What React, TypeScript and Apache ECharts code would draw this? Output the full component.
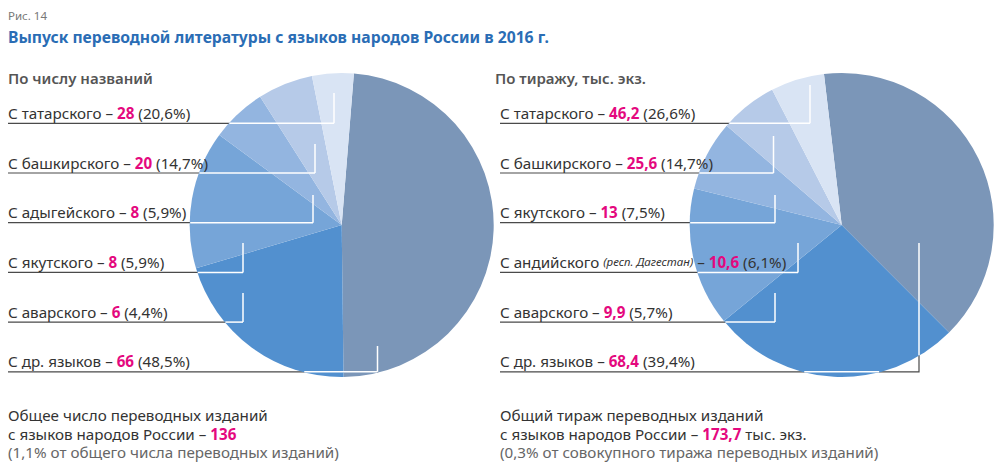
import React, { useEffect, useRef } from "react";
import * as echarts from "echarts";

// ---------- data ----------
const figureLabel = "Рис. 14";
const titleText = "Выпуск переводной литературы с языков народов России в 2016 г.";

const leftSubtitle = "По числу названий";
const leftCategories = ["С татарского", "С башкирского", "С адыгейского", "С якутского", "С аварского", "С др. языков"];
const leftValues = [28, 20, 8, 8, 6, 66];
const leftTotal = "136";

const rightSubtitle = "По тиражу, тыс. экз.";
const rightCategories = ["С татарского", "С башкирского", "С якутского", "С андийского", "С аварского", "С др. языков"];
const rightNotes = ["", "", "", "(респ. Дагестан)", "", ""];
const rightValues = [46.2, 25.6, 13, 10.6, 9.9, 68.4];
const rightTotal = "173,7";

// slice order clockwise from the top (indices into the category arrays)
const leftSliceOrder = [5, 0, 1, 2, 3, 4];
const rightSliceOrder = [5, 0, 1, 2, 3, 4];

// ---------- styles / layout ----------
const FONT = "Noto Sans";
const sliceColors = ["#7b96b8", "#5290cf", "#76a5d8", "#93b5e0", "#b6cae8", "#d9e4f4"];
const MAGENTA = "#e4087e";
const TEXT = "#333333";
const LINE_GREY = "#4a4a4a";

const PIE_R = 152;
const leftCenter = [341.7, 225];
const rightCenter = [841.7, 225];
const leftStart = 85.4;
const rightStart = 96.7;

const rowY0 = 123.3;
const rowStep = 49.7;
// leader line vertical x and top y (annotation layout)
const leftLeaders = [[334, 93], [315, 144], [313, 195], [243, 243], [243, 293], [377.5, 346]];
const rightLeaders = [[810, 85], [773.5, 136], [775, 195], [798, 243], [775, 293], [919, 243]];

const fmt = (v: number) => String(v).replace(".", ",");
const pct = (v: number, total: number) => (v / total * 100).toFixed(1).replace(".", ",") + "%";

function insideSeg(x1: number, y1: number, x2: number, y2: number, cx: number, cy: number, r: number) {
  const dx = x2 - x1, dy = y2 - y1;
  const fx = x1 - cx, fy = y1 - cy;
  const a = dx * dx + dy * dy, b = 2 * (fx * dx + fy * dy), c = fx * fx + fy * fy - r * r;
  const disc = b * b - 4 * a * c;
  if (disc <= 0 || a === 0) return null;
  const s = Math.sqrt(disc);
  let t0 = (-b - s) / (2 * a), t1 = (-b + s) / (2 * a);
  t0 = Math.max(0, t0); t1 = Math.min(1, t1);
  if (t1 <= t0) return null;
  return [x1 + dx * t0, y1 + dy * t0, x1 + dx * t1, y1 + dy * t1];
}

function buildSide(
  cats: string[], notes: string[], values: number[], leaders: number[][],
  textX: number, center: number[], isFloat: boolean
) {
  const total = values.reduce((s, v) => s + v, 0);
  const els: any[] = [];
  cats.forEach((cat, i) => {
    const y = rowY0 + i * rowStep;
    const [vx, vy] = leaders[i];
    const pts = [[textX, y], [vx, y], [vx, vy]];
    els.push({
      type: "polyline", z: 1, silent: true,
      shape: { points: pts },
      style: { stroke: LINE_GREY, lineWidth: 1.2, fill: null },
    });
    for (let k = 0; k < pts.length - 1; k++) {
      const seg = insideSeg(pts[k][0], pts[k][1], pts[k + 1][0], pts[k + 1][1], center[0], center[1], PIE_R - 0.5);
      if (seg) {
        els.push({
          type: "line", z: 50, silent: true,
          shape: { x1: seg[0], y1: seg[1], x2: seg[2], y2: seg[3] },
          style: { stroke: "#ffffff", lineWidth: 1.5 },
        });
      }
    }
    const v = values[i];
    const valStr = isFloat ? (Number.isInteger(v) ? String(v) : fmt(v)) : String(v);
    const note = notes[i] ? `{n|${notes[i]}}` : "";
    els.push({
      type: "text", z: 60, silent: true,
      x: textX, y: y - 10.5,
      style: {
        text: `{a|${cat} }${note}{a|${notes[i] ? " " : ""}– }{b|${valStr}}{a| (${pct(v, total)})}`,
        verticalAlign: "middle",
        align: "left",
        rich: {
          a: { fontFamily: FONT, fontSize: 15.2, fill: TEXT },
          n: { fontFamily: FONT, fontSize: 11.5, fontStyle: "italic", fill: TEXT },
          b: { fontFamily: FONT, fontSize: 15.2, fontWeight: "bold", fill: MAGENTA },
        },
      },
    });
  });
  return els;
}

function pieData(cats: string[], values: number[], order: number[]) {
  return order.map((idx, k) => ({
    name: cats[idx],
    value: values[idx],
    itemStyle: { color: sliceColors[k] },
  }));
}

export default function App() {
  const ref = useRef<HTMLDivElement>(null);
  useEffect(() => {
    if (!ref.current) return;
    const chart = echarts.init(ref.current, undefined, { renderer: "svg" });
    const graphic: any[] = [
      {
        type: "text", x: 8, y: 15, silent: true,
        style: { text: figureLabel, fontFamily: FONT, fontSize: 11.5, fill: "#777777", verticalAlign: "middle" },
      },
      {
        type: "text", x: 8, y: 37, silent: true,
        style: { text: titleText, fontFamily: FONT, fontSize: 15.7, fontWeight: "bold", fill: "#2a6db5", verticalAlign: "middle" },
      },
      {
        type: "text", x: 8, y: 78, silent: true,
        style: { text: leftSubtitle, fontFamily: FONT, fontSize: 15, fontWeight: 600, fill: "#555555", verticalAlign: "middle" },
      },
      {
        type: "text", x: 495, y: 78, silent: true,
        style: { text: rightSubtitle, fontFamily: FONT, fontSize: 15, fontWeight: 600, fill: "#555555", verticalAlign: "middle" },
      },
      ...buildSide(leftCategories, ["", "", "", "", "", ""], leftValues, leftLeaders, 8, leftCenter, false),
      ...buildSide(rightCategories, rightNotes, rightValues, rightLeaders, 500, rightCenter, true),
      {
        type: "text", x: 8, y: 415, silent: true,
        style: { text: "Общее число переводных изданий", fontFamily: FONT, fontSize: 15.2, fill: TEXT, verticalAlign: "middle" },
      },
      {
        type: "text", x: 8, y: 433.5, silent: true,
        style: {
          text: `{a|с языков народов России – }{b|${leftTotal}}`, verticalAlign: "middle",
          rich: {
            a: { fontFamily: FONT, fontSize: 15.2, fill: TEXT },
            b: { fontFamily: FONT, fontSize: 15.2, fontWeight: "bold", fill: MAGENTA },
          },
        },
      },
      {
        type: "text", x: 8, y: 452, silent: true,
        style: { text: "(1,1% от общего числа переводных изданий)", fontFamily: FONT, fontSize: 15.2, fill: "#666666", verticalAlign: "middle" },
      },
      {
        type: "text", x: 500, y: 415, silent: true,
        style: { text: "Общий тираж переводных изданий", fontFamily: FONT, fontSize: 15.2, fill: TEXT, verticalAlign: "middle" },
      },
      {
        type: "text", x: 500, y: 433.5, silent: true,
        style: {
          text: `{a|с языков народов России – }{b|${rightTotal}}{a| тыс. экз.}`, verticalAlign: "middle",
          rich: {
            a: { fontFamily: FONT, fontSize: 15.2, fill: TEXT },
            b: { fontFamily: FONT, fontSize: 15.2, fontWeight: "bold", fill: MAGENTA },
          },
        },
      },
      {
        type: "text", x: 500, y: 452, silent: true,
        style: { text: "(0,3% от совокупного тиража переводных изданий)", fontFamily: FONT, fontSize: 15.2, fill: "#666666", verticalAlign: "middle" },
      },
    ];
    chart.setOption({
      animation: false,
      backgroundColor: "#ffffff",
      series: [
        {
          type: "pie", z: 2, silent: true,
          center: leftCenter, radius: PIE_R, startAngle: leftStart, clockwise: true,
          label: { show: false }, labelLine: { show: false },
          itemStyle: { borderWidth: 0 },
          data: pieData(leftCategories, leftValues, leftSliceOrder),
        },
        {
          type: "pie", z: 2, silent: true,
          center: rightCenter, radius: PIE_R, startAngle: rightStart, clockwise: true,
          label: { show: false }, labelLine: { show: false },
          itemStyle: { borderWidth: 0 },
          data: pieData(rightCategories, rightValues, rightSliceOrder),
        },
      ],
      graphic,
    });
    return () => chart.dispose();
  }, []);
  return <div ref={ref} style={{ position: "absolute", left: 0, top: 0, width: 1000, height: 466 }} />;
}
